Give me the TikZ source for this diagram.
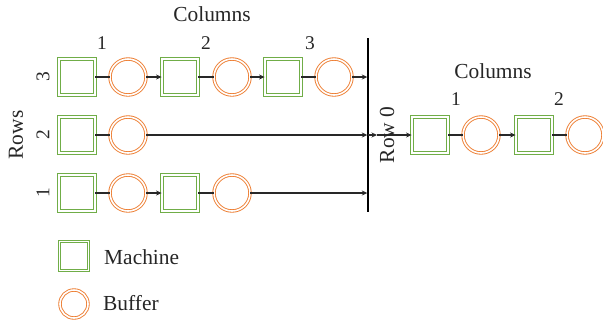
\documentclass[tikz,border=0pt]{standalone}
\usepackage{fontspec}
\setmainfont{Liberation Serif}
\usetikzlibrary{arrows.meta}
\definecolor{mgreen}{RGB}{112,173,71}
\definecolor{morange}{RGB}{237,125,49}
\definecolor{lk}{RGB}{40,40,40}
\begin{document}
\begin{tikzpicture}[x=1bp,y=-1bp,
  machine/.style={rectangle, draw=mgreen, double=white, double distance=1.6bp,
    line width=0.9bp, minimum size=36bp, inner sep=0pt},
  buffer/.style={circle, draw=morange, double=white, double distance=1.6bp,
    line width=0.9bp, minimum size=36bp, inner sep=0pt},
  link/.style={draw=lk, line width=1.2bp},
  flow/.style={link, -{Stealth[length=5.5bp,width=5bp]}},
  lbl/.style={font=\fontsize{21.5}{24}\selectfont, inner sep=0pt, text=black!85},
  num/.style={font=\fontsize{19.5}{22}\selectfont, inner sep=0pt, text=black!85},
]
\useasboundingbox (0,0) rectangle (603,321);

% headings
\node[lbl] (colsL) at (212,14) {Columns};
\node[num] (c1) at (102,43) {1};
\node[num] (c2) at (206,43) {2};
\node[num] (c3) at (310,43) {3};
\node[lbl, rotate=90] (rows) at (16,135) {Rows};
\node[num, rotate=90] (r3) at (43,77) {3};
\node[num, rotate=90] (r2) at (43,135) {2};
\node[num, rotate=90] (r1) at (43,193) {1};

% merge line
\coordinate (vt) at (368,38);
\coordinate (vb) at (368,212);
\draw[line width=1.4bp, black] (vt) -- (vb);
\coordinate (e3) at (368,77);
\coordinate (e2) at (368,135);
\coordinate (e1) at (368,193);

% row 3
\node[machine] (m31) at (77,77) {};
\node[buffer]  (b31) at (128,77) {};
\node[machine] (m32) at (180,77) {};
\node[buffer]  (b32) at (232,77) {};
\node[machine] (m33) at (283,77) {};
\node[buffer]  (b33) at (334,77) {};
\draw[link] (m31) -- (b31);
\draw[flow] (b31) -- (m32);
\draw[link] (m32) -- (b32);
\draw[flow] (b32) -- (m33);
\draw[link] (m33) -- (b33);
\draw[flow, shorten >=0.7bp] (b33) -- (e3);

% row 2
\node[machine] (m21) at (77,135) {};
\node[buffer]  (b21) at (128,135) {};
\draw[link] (m21) -- (b21);
\draw[flow, shorten >=0.7bp] (b21) -- (e2);

% row 1
\node[machine] (m11) at (77,193) {};
\node[buffer]  (b11) at (128,193) {};
\node[machine] (m12) at (180,193) {};
\node[buffer]  (b12) at (232,193) {};
\draw[link] (m11) -- (b11);
\draw[flow] (b11) -- (m12);
\draw[link] (m12) -- (b12);
\draw[flow, shorten >=0.7bp] (b12) -- (e1);

% row 0
\node[lbl] (colsR) at (493,71) {Columns};
\node[num] (d1) at (456,99) {1};
\node[num] (d2) at (559,99) {2};
\node[machine] (m01) at (430,135) {};
\node[buffer]  (b01) at (481,135) {};
\node[machine] (m02) at (534,135) {};
\node[buffer]  (b02) at (585,135) {};
\coordinate (s0) at (377,135);
\draw[flow] (e2) -- (s0);
\draw[flow] (s0) -- (m01);
\node[lbl, rotate=90] (row0) at (387,135) {Row 0};
\draw[link] (m01) -- (b01);
\draw[flow] (b01) -- (m02);
\draw[link] (m02) -- (b02);

% legend
\node[machine, minimum size=29bp] (lm) at (74,256) {};
\node[lbl, anchor=west] (lmt) at (104,257) {Machine};
\node[buffer, minimum size=28bp] (lb) at (74,304) {};
\node[lbl, anchor=west] (lbt) at (103,303) {Buffer};
\end{tikzpicture}
\end{document}
